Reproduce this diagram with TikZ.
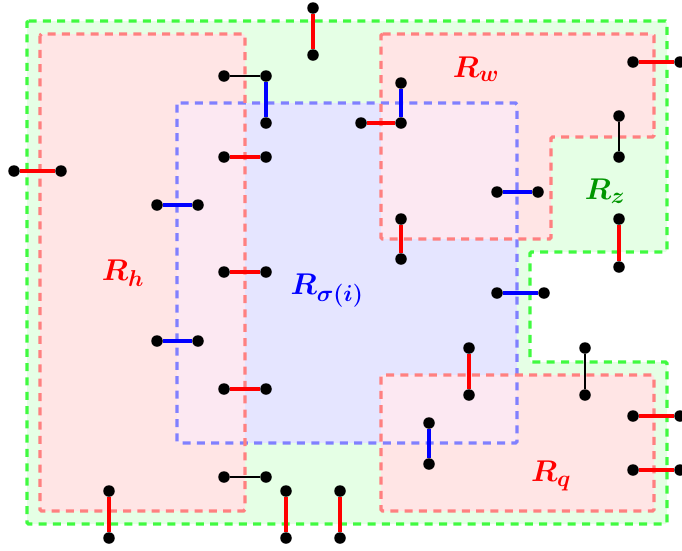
\RequirePackage{fix-cm}
\documentclass[tikz,border=0pt]{standalone}
\usepackage{amsmath,amssymb,bm}
\usepackage{xcolor}
\DeclareMathSizes{30}{30}{23}{17}
\definecolor{rzgreen}{RGB}{0,150,0}
\definecolor{mixpink}{RGB}{252,232,242}
\definecolor{linegreen}{RGB}{64,250,64}
\definecolor{linered}{RGB}{255,128,128}
\definecolor{lineblue}{RGB}{128,128,255}

\begin{document}
\begin{tikzpicture}[
    x=1pt, y=-1pt,
    region/.style={line width=3.3pt, dash pattern=on 8pt off 6.3pt, rounded corners=1.5pt},
    vtx/.style={circle, fill=black, inner sep=0pt, minimum size=11.5pt},
    redge/.style={red, line width=4pt},
    bedge/.style={blue, line width=4pt},
    kedge/.style={black, line width=1.6pt},
    lbl/.style={font=\fontsize{30}{36}\selectfont, inner sep=0pt}
  ]
  \useasboundingbox (0,0) rectangle (682,550);

  % region fills
  \fill[green!10, rounded corners=1.5pt] (27,21) -- (667,21) -- (667,252) -- (530,252) -- (530,362)
    -- (667,362) -- (667,524) -- (27,524) -- cycle;
  \fill[red!10, rounded corners=1.5pt] (40,34) rectangle (245,511);
  \fill[red!10, rounded corners=1.5pt] (381,34) -- (654,34) -- (654,137) -- (551,137) -- (551,239)
    -- (381,239) -- cycle;
  \fill[red!10, rounded corners=1.5pt] (381,375) rectangle (654,511);
  \fill[blue!10] (177,103) rectangle (517,443);
  \fill[mixpink] (177,103) rectangle (245,443);
  \fill[mixpink] (381,103) rectangle (517,239);
  \fill[mixpink] (381,375) rectangle (517,443);

  % region borders
  \draw[region, linegreen] (27,21) -- (667,21) -- (667,252) -- (530,252) -- (530,362)
    -- (667,362) -- (667,524) -- (27,524) -- cycle;
  \draw[region, lineblue] (177,103) rectangle (517,443);
  \draw[region, linered] (40,34) rectangle (245,511);
  \draw[region, linered] (381,34) -- (654,34) -- (654,137) -- (551,137) -- (551,239)
    -- (381,239) -- cycle;
  \draw[region, linered] (381,375) rectangle (654,511);

  % labels
  \node[lbl, red] (lh) at (123,273) {$\bm{R_h}$};
  \node[lbl, red] (lw) at (476,69) {$\bm{R_w}$};
  \node[lbl, rzgreen] (lz) at (605,191) {$\bm{R_z}$};
  \node[lbl, blue] (ls) at (327,291) {$\bm{R_{\sigma(i)}}$};
  \node[lbl, red] (lq) at (551,476) {$\bm{R_q}$};

  % vertices
  \foreach \n/\x/\y in {a1/313/8, a2/313/55, b1/224/76, b2/266/76, b3/266/123,
      c1/14/171, c2/61/171, d1/224/157, d2/266/157, e1/157/205, e2/198/205,
      f1/224/272, f2/266/272, g1/157/341, g2/198/341, h1/224/389, h2/266/389,
      i1/224/477, i2/266/477, j1/109/491, j2/109/538, k1/286/491, k2/286/538,
      l1/340/491, l2/340/538, m1/401/83, m2/401/123, m3/361/123,
      n1/633/62, n2/680/62, o1/619/116, o2/619/157, p1/497/192, p2/538/192,
      q1/401/219, q2/401/259, r1/619/219, r2/619/267, s1/497/293, s2/544/293,
      t1/469/348, t2/469/395, u1/585/348, u2/585/395, v1/633/416, v2/680/416,
      w1/633/470, w2/680/470, y1/429/423, y2/429/464}
    \node[vtx] (\n) at (\x,\y) {};

  % edges
  \foreach \s/\t in {a1/a2, c1/c2, d1/d2, f1/f2, h1/h2, j1/j2, k1/k2, l1/l2,
      m3/m2, n1/n2, q1/q2, r1/r2, t1/t2, v1/v2, w1/w2}
    \draw[redge] (\s) -- (\t);
  \foreach \s/\t in {b2/b3, e1/e2, g1/g2, m1/m2, p1/p2, s1/s2, y1/y2}
    \draw[bedge] (\s) -- (\t);
  \foreach \s/\t in {b1/b2, i1/i2, o1/o2, u1/u2}
    \draw[kedge] (\s) -- (\t);
\end{tikzpicture}
\end{document}
